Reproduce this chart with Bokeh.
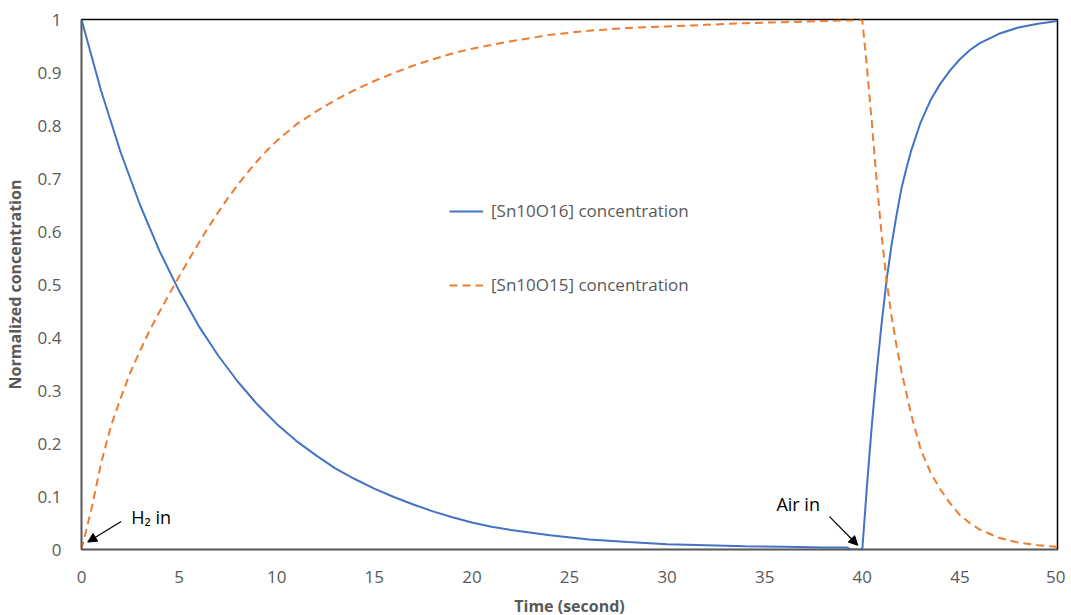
from bokeh.plotting import figure
from bokeh.models import Range1d, FixedTicker, NumeralTickFormatter, Label, Arrow, NormalHead, Legend
from bokeh.embed import file_html
from bokeh.resources import INLINE

# ---- data ----
T_SN10O16 = [0, 1, 2, 3, 4, 5, 6, 7, 8, 9, 10, 11, 12, 13, 14, 15, 16, 17, 18, 19, 20,
             21, 22, 24, 26, 28, 30, 32, 34, 36, 38, 39.2, 39.4, 40,
             40.25, 40.5, 40.75, 41, 41.25, 41.5, 41.75, 42, 42.25, 42.5, 43, 43.5, 44, 44.5, 45,
             45.5, 46, 47, 48, 49, 50]
C_SN10O16 = [1.0, 0.866, 0.75, 0.65, 0.563, 0.488, 0.422, 0.366, 0.317, 0.274, 0.237, 0.205,
             0.178, 0.153, 0.133, 0.115, 0.099, 0.085, 0.072, 0.061, 0.051,
             0.043, 0.037, 0.027, 0.019, 0.014, 0.010, 0.008, 0.006, 0.005, 0.004, 0.004, 0.0, 0.0,
             0.125, 0.24, 0.34, 0.43, 0.51, 0.575, 0.63, 0.68, 0.718, 0.752, 0.807, 0.848, 0.879,
             0.904, 0.925, 0.942, 0.955, 0.973, 0.985, 0.992, 0.997]

T_SN10O15 = [0, 0.5, 1, 1.5, 2, 2.5, 3, 3.5, 4, 4.5, 5, 5.5, 6, 6.5, 7, 7.5, 8, 8.5, 9, 9.5,
             10, 11, 12, 13, 14, 15, 16, 17, 18, 19, 20, 22, 24, 26, 28, 30, 32, 34, 36, 38, 40,
             40.25, 40.5, 40.75, 41, 41.25, 41.5, 41.75, 42, 42.5, 43, 43.5, 44, 44.5, 45,
             45.5, 46, 47, 48, 49, 50]
C_SN10O15 = [0.0, 0.075, 0.162, 0.232, 0.285, 0.334, 0.375, 0.414, 0.449, 0.482, 0.515, 0.547,
             0.578, 0.608, 0.636, 0.663, 0.688, 0.711, 0.733, 0.753,
             0.771, 0.802, 0.826, 0.848, 0.867, 0.884, 0.899, 0.913, 0.925, 0.936, 0.945,
             0.959, 0.971, 0.979, 0.984, 0.987, 0.99, 0.993, 0.995, 0.997, 0.999,
             0.905, 0.8, 0.69, 0.59, 0.505, 0.44, 0.385, 0.337, 0.255, 0.188, 0.145, 0.113, 0.087,
             0.065, 0.05, 0.038, 0.022, 0.013, 0.008, 0.005]

SERIES_NAMES = ["[Sn10O16] concentration", "[Sn10O15] concentration"]
X_TICKS = [0, 5, 10, 15, 20, 25, 30, 35, 40, 45, 50]
Y_TICKS = [0, 0.1, 0.2, 0.3, 0.4, 0.5, 0.6, 0.7, 0.8, 0.9, 1]
X_LABEL = "Time (second)"
Y_LABEL = "Normalized concentration"

ANNOT_TEXT = ["H\u2082 in", "Air in"]
ANNOT_POS = [(2.55, 0.062), (35.6, 0.085)]
ARROW_FROM = [(2.03, 0.053), (38.32, 0.062)]
ARROW_TO = [(0.32, 0.014), (39.77, 0.008)]

GRAY = "#595959"
FONT = "Open Sans"

p = figure(frame_width=976, frame_height=530,
           x_range=Range1d(0, 50), y_range=Range1d(0, 1),
           output_backend="svg", toolbar_location=None,
           min_border_left=74, min_border_top=19, min_border_right=8, min_border_bottom=50,
           background_fill_color="white", border_fill_color="white")

p.xgrid.visible = False
p.ygrid.visible = False
p.outline_line_color = "black"
p.outline_line_width = 1.5
p.outline_line_alpha = 1.0

r1 = p.line(T_SN10O16, C_SN10O16, line_color="#4472C4", line_width=2)
r2 = p.line(T_SN10O15, C_SN10O15, line_color="#ED7D31", line_width=2, line_dash="8 5")

legend = Legend(items=[(SERIES_NAMES[0], [r1]), (SERIES_NAMES[1], [r2])],
                location=(368, 253), orientation="vertical",
                glyph_width=34, glyph_height=20, label_height=20, spacing=51,
                padding=0, margin=0, label_standoff=8,
                border_line_color=None, background_fill_alpha=0,
                label_text_font=FONT, label_text_font_size="17px", label_text_color=GRAY)
p.add_layout(legend, "center")

for ax in (p.xaxis[0], p.yaxis[0]):
    ax.axis_line_color = GRAY
    ax.axis_line_width = 1.5
    ax.major_tick_line_color = None
    ax.minor_tick_line_color = None
    ax.major_tick_out = 0
    ax.major_tick_in = 0
    ax.minor_tick_out = 0
    ax.minor_tick_in = 0
    ax.major_label_text_font = FONT
    ax.major_label_text_font_size = "17px"
    ax.major_label_text_color = GRAY
    ax.axis_label_text_font = FONT
    ax.axis_label_text_font_size = "16px"
    ax.axis_label_text_font_style = "bold"
    ax.axis_label_text_color = GRAY

p.xaxis.ticker = FixedTicker(ticks=X_TICKS)
p.yaxis.ticker = FixedTicker(ticks=Y_TICKS)
p.yaxis.formatter = NumeralTickFormatter(format="0.[0]")
p.xaxis.major_label_standoff = 21
p.yaxis.major_label_standoff = 20
p.xaxis.axis_label = X_LABEL
p.yaxis.axis_label = Y_LABEL
p.xaxis.axis_label_standoff = 9
p.yaxis.axis_label_standoff = 9

for txt, (x, y) in zip(ANNOT_TEXT, ANNOT_POS):
    p.add_layout(Label(x=x, y=y, text=txt, text_font=FONT, text_font_size="18px",
                       text_color="black", text_baseline="middle", text_align="left"))

for (x0, y0), (x1, y1) in zip(ARROW_FROM, ARROW_TO):
    p.add_layout(Arrow(x_start=x0, y_start=y0, x_end=x1, y_end=y1,
                       line_color="black", line_width=1.2,
                       end=NormalHead(size=9, fill_color="black", line_color="black")))

open("out.html", "w").write(file_html(p, INLINE))
